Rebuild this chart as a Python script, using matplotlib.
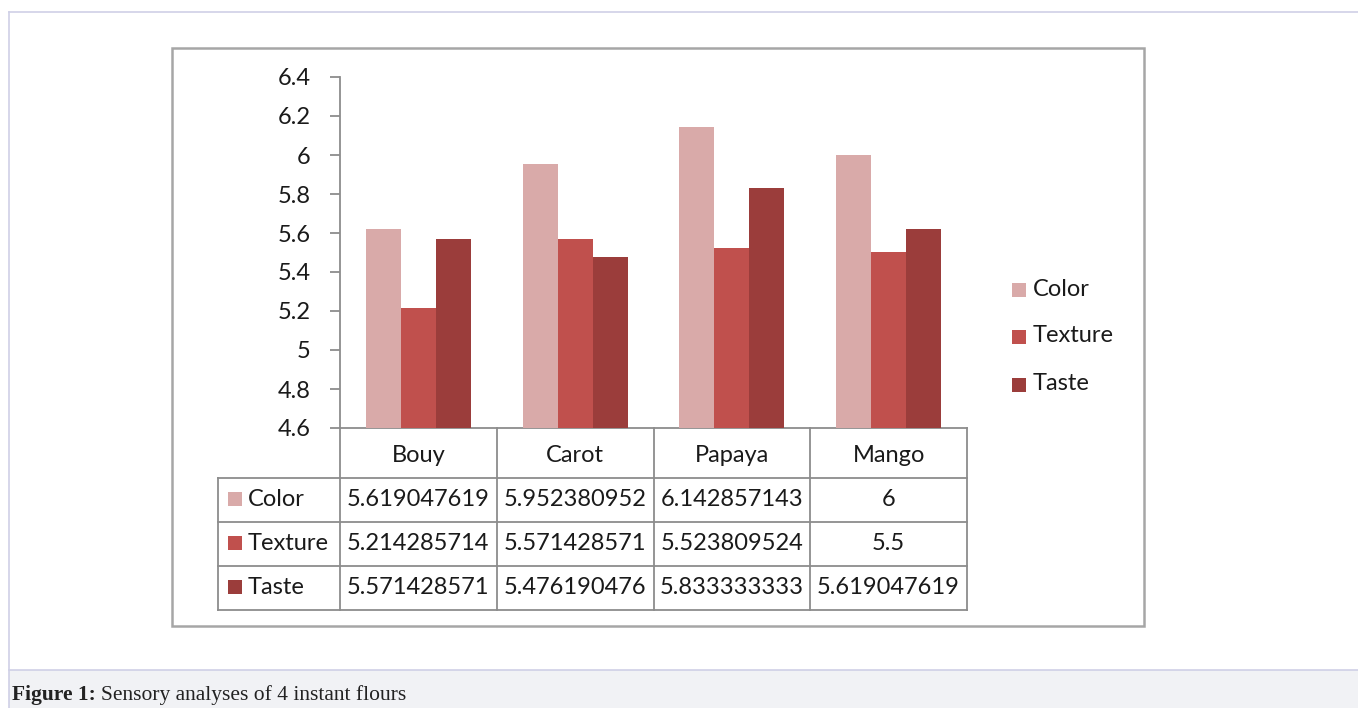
import matplotlib.pyplot as plt
from matplotlib.patches import Rectangle

# flour samples and mean sensory scores
flours = ['Bouy', 'Carot', 'Papaya', 'Mango']
attributes = ['Color', 'Texture', 'Taste']
color_scores = [5.619047619, 5.952380952, 6.142857143, 6]
texture_scores = [5.214285714, 5.571428571, 5.523809524, 5.5]
taste_scores = [5.571428571, 5.476190476, 5.833333333, 5.619047619]
y_ticks = [4.6, 4.8, 5, 5.2, 5.4, 5.6, 5.8, 6, 6.2, 6.4]

series = [color_scores, texture_scores, taste_scores]
bar_colors = ['#d9aaa9', '#c0504d', '#9b3d3b']

W, H = 1358, 708
FONT = 'Lato'
GRID = '#8c8c8c'

fig = plt.figure(figsize=(W / 100, H / 100), dpi=100)

# background layer in pixel coordinates (y down)
bg = fig.add_axes([0, 0, 1, 1])
bg.set_xlim(0, W)
bg.set_ylim(H, 0)
bg.axis('off')

# page frame and caption strip
bg.add_patch(Rectangle((9, 670), W, 40, facecolor='#f1f2f5', edgecolor='none'))
bg.plot([9, W], [12, 12], color='#cfd0e6', lw=1.2)
bg.plot([9, W], [670, 670], color='#cfd0e6', lw=1.2)
bg.plot([9, 9], [12, H], color='#cfd0e6', lw=1.2)
t1 = bg.text(12, 695, 'Figure 1:', fontsize=15.5, fontweight='bold', family='Liberation Serif',
             va='center', ha='left', color='#222222')
fig.canvas.draw()
ext = t1.get_window_extent()
x_after = ext.x1 + 5
bg.text(x_after, H - ext.y0 - ext.height / 2, 'Sensory analyses of 4 instant flours',
        fontsize=15.5, family='Liberation Serif', va='center', ha='left', color='#222222')

# chart frame
bg.add_patch(Rectangle((172, 48), 1144 - 172, 626 - 48, facecolor='white',
                       edgecolor='#a6a6a6', lw=1.8))

# data table under the plot
x0, xl = 340, 218
col_w = (967 - 340) / len(flours)
rows_y = [428, 478, 522, 566, 610]
bg.plot([x0, 967], [428, 428], color=GRID, lw=1.3)
for y in rows_y[1:]:
    bg.plot([xl, 967], [y, y], color=GRID, lw=1.3)
for i in range(len(flours) + 1):
    bg.plot([x0 + i * col_w] * 2, [428, 610], color=GRID, lw=1.3)
bg.plot([xl, xl], [478, 610], color=GRID, lw=1.3)

for i, name in enumerate(flours):
    bg.text(x0 + (i + 0.5) * col_w, 455, name, fontsize=17, family=FONT,
            ha='center', va='center', color='#1a1a1a')

for r, (label, vals) in enumerate(zip(attributes, series)):
    yc = (rows_y[r + 1] + rows_y[r + 2]) / 2
    bg.add_patch(Rectangle((228, yc - 8), 14, 14, facecolor=bar_colors[r], edgecolor='none'))
    bg.text(248, yc - 1, label, fontsize=17, family=FONT, ha='left', va='center',
            color='#1a1a1a')
    for i, v in enumerate(vals):
        bg.text(x0 + (i + 0.5) * col_w, yc, '{:.10g}'.format(v), fontsize=17,
                family=FONT, ha='center', va='center', color='#1a1a1a')

# legend
for r, label in enumerate(attributes):
    yc = [290, 337, 385][r]
    bg.add_patch(Rectangle((1012, yc - 7), 14, 14, facecolor=bar_colors[r], edgecolor='none'))
    bg.text(1033, yc - 1, label, fontsize=17, family=FONT, ha='left', va='center',
            color='#1a1a1a')

# bar plot
ax = fig.add_axes([340 / W, 1 - 428 / H, (967 - 340) / W, (428 - 77) / H])
ax.patch.set_alpha(0)
bw = 0.223
for k, vals in enumerate(series):
    xs = [i + (k - 1) * bw for i in range(len(flours))]
    ax.bar(xs, [v - 4.6 for v in vals], bottom=4.6, width=bw, color=bar_colors[k],
           edgecolor='none')
ax.set_xlim(-0.5, len(flours) - 0.5)
ax.set_ylim(4.6, 6.4)
ax.set_yticks(y_ticks)
ax.set_yticklabels(['{:g}'.format(t) for t in y_ticks], fontsize=17, family=FONT,
                   color='#1a1a1a')
ax.tick_params(axis='y', direction='out', length=7, width=1.3, color=GRID, pad=14)
ax.set_xticks([])
for s in ['top', 'right', 'bottom']:
    ax.spines[s].set_visible(False)
ax.spines['left'].set_color(GRID)
ax.spines['left'].set_linewidth(1.3)

fig.savefig('out.png', dpi=100)
